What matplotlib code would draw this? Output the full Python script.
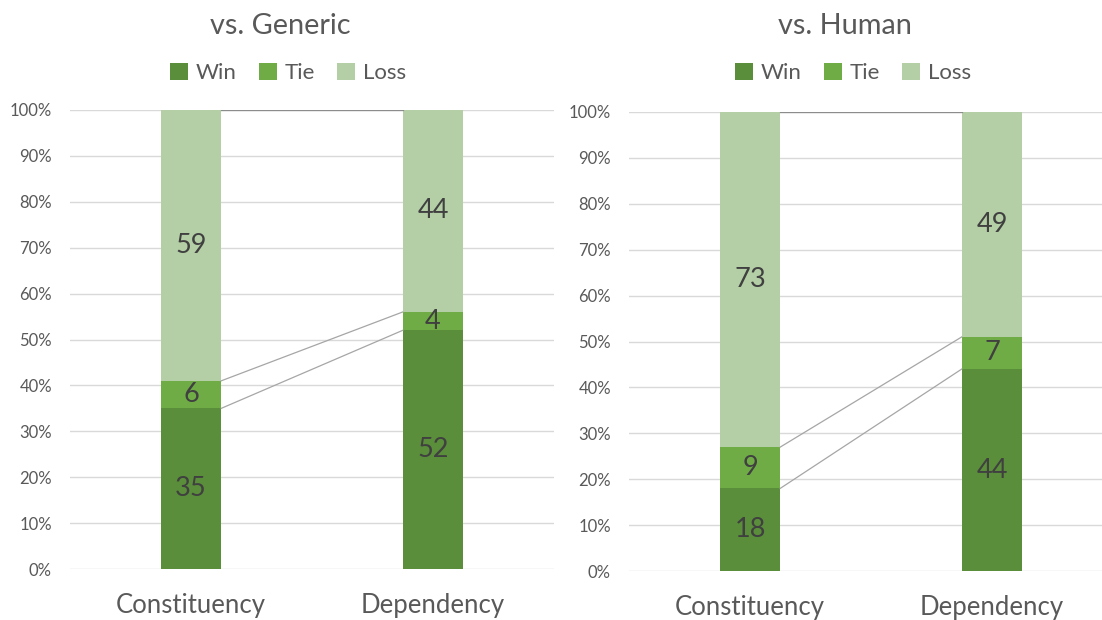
import matplotlib
matplotlib.use("Agg")
from matplotlib import pyplot as plt
from matplotlib.patches import Patch

plt.rcParams['font.family'] = ['Lato', 'DejaVu Sans']

categories = ["Constituency", "Dependency"]
series = ["Win", "Tie", "Loss"]
titles = ["vs. Generic", "vs. Human"]

generic_win = [35, 52]
generic_tie = [6, 4]
generic_loss = [59, 44]

human_win = [18, 44]
human_tie = [9, 7]
human_loss = [73, 49]

colors = ['#5a8e3a', '#6fac46', '#b4cfa6']
text_grey = '#595959'
label_grey = '#404040'
bar_w = 0.25


def drawPanel(ax, win, tie, loss):
    x = list(range(len(categories)))
    bottoms = [0] * len(x)
    for vals, col in zip([win, tie, loss], colors):
        ax.bar(x, vals, bar_w, bottom=bottoms, color=col, zorder=3)
        for i in x:
            ax.text(i, bottoms[i] + vals[i] / 2, str(vals[i]), ha='center', va='center',
                    fontsize=19.5, color=label_grey, zorder=5)
        bottoms = [b + v for b, v in zip(bottoms, vals)]

    # series lines between the two stacks
    cum1 = win
    cum2 = [w + t for w, t in zip(win, tie)]
    cum3 = [w + t + l for w, t, l in zip(win, tie, loss)]
    for cum, c in [(cum1, '#a6a6a6'), (cum2, '#a6a6a6'), (cum3, '#8c8c8c')]:
        ax.plot([bar_w / 2, 1 - bar_w / 2], [cum[0], cum[1]], color=c, lw=0.9, zorder=4)

    ax.set_xlim(-0.5, 1.5)
    ax.set_ylim(0, 100)
    ax.set_yticks(range(0, 101, 10))
    ax.set_yticklabels([str(v) + "%" for v in range(0, 101, 10)])
    ax.set_xticks(x)
    ax.set_xticklabels(categories)
    ax.tick_params(axis='y', length=0, pad=13, labelsize=12, labelcolor=text_grey)
    ax.tick_params(axis='x', length=0, pad=17, labelsize=18.5, labelcolor=text_grey)
    ax.grid(axis='y', color='#d9d9d9', lw=1, zorder=0)
    for s in ax.spines.values():
        s.set_visible(False)


fig = plt.figure(figsize=(11.02, 6.2), dpi=100)
ax1 = fig.add_axes([70 / 1102, 1 - 569 / 620, 484 / 1102, 459 / 620])
ax2 = fig.add_axes([629 / 1102, 1 - 571 / 620, 484 / 1102, 459 / 620])

drawPanel(ax1, generic_win, generic_tie, generic_loss)
drawPanel(ax2, human_win, human_tie, human_loss)

handles = [Patch(facecolor=c, label=s) for c, s in zip(colors, series)]
for cx, t in [(280 / 1102, titles[0]), (845 / 1102, titles[1])]:
    fig.text(cx, 1 - 26 / 620, t, ha='center', va='center', fontsize=20.8, color=text_grey)
    fig.legend(handles=handles, loc='center', bbox_to_anchor=(cx + 8 / 1102, 1 - 73 / 620), ncol=3,
               frameon=False, fontsize=16, labelcolor=text_grey, handlelength=0.8, handleheight=0.8,
               handletextpad=0.35, columnspacing=1.0)

fig.savefig("out.png", dpi=100)
